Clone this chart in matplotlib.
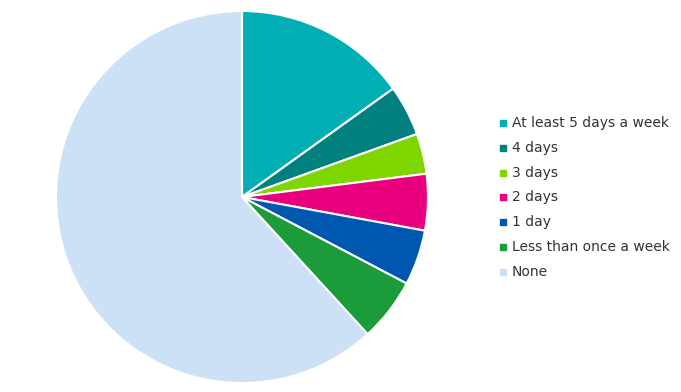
import matplotlib
matplotlib.use('Agg')
import matplotlib.pyplot as plt
from matplotlib.patches import Rectangle

labels = ['At least 5 days a week', '4 days', '3 days', '2 days', '1 day',
          'Less than once a week', 'None']
shares = [15.1, 4.4, 3.5, 4.9, 4.8, 5.5, 61.8]
colors = ['#00AEB3', '#00807F', '#7ED500', '#E8007F', '#0057B0', '#1B9B3A', '#CCE0F6']

fig = plt.figure(figsize=(6.81, 3.92), dpi=100)
ax = fig.add_axes([56 / 681, 9 / 392, 372 / 681, 372 / 392])
ax.pie(shares, colors=colors, startangle=90, counterclock=False,
       wedgeprops=dict(edgecolor='white', linewidth=1.5))
ax.set_xlim(-1, 1)
ax.set_ylim(-1, 1)
ax.set_aspect('equal')

# legend, drawn by hand
x0, y0, dy = 500 / 681, 1 - 123 / 392, 24.8 / 392
for i, (lab, c) in enumerate(zip(labels, colors)):
    y = y0 - i * dy
    fig.patches.append(Rectangle((x0, y - 3 / 392), 6 / 681, 6 / 392,
                                 transform=fig.transFigure, color=c))
    fig.text(x0 + 12 / 681, y, lab, fontsize=10, color='#333333',
             va='center', ha='left', family='DejaVu Sans')

plt.savefig('out.png', dpi=100)
plt.close()
